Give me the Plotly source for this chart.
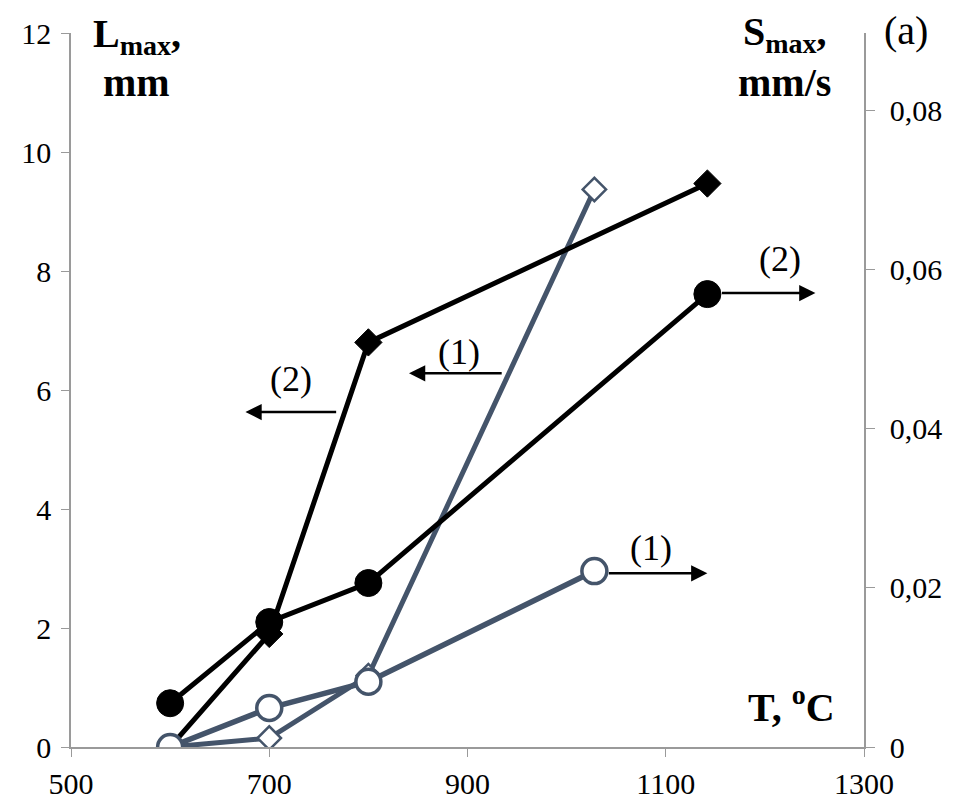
import plotly.graph_objects as go

# Temperature (°C)
T_grey = [600, 700, 800, 1028]
T_black = [600, 700, 800, 1142]

# L_max, mm (left axis) – diamonds
L1_grey = [0.0, 0.15, 1.2, 9.37]
L2_black = [0.0, 1.9, 6.8, 9.47]

# S_max, mm/s (right axis) – circles
S1_grey = [0.0, 0.0049, 0.0082, 0.0221]
S2_black = [0.0055, 0.0157, 0.0206, 0.0569]

x_ticks = [500, 700, 900, 1100, 1300]
x_tick_text = ["500", "700", "900", "1100", "1300"]
yl_ticks = [0, 2, 4, 6, 8, 10, 12]
yl_tick_text = ["0", "2", "4", "6", "8", "10", "12"]
yr_ticks = [0, 0.02, 0.04, 0.06, 0.08]
yr_tick_text = ["0", "0,02", "0,04", "0,06", "0,08"]

GREY = "#44546A"
BLACK = "#000000"
AXIS = "#9a9a9a"
FONT = "Liberation Serif"

fig = go.Figure()

fig.add_trace(go.Scatter(
    x=T_grey, y=L1_grey, mode="lines+markers", yaxis="y",
    line=dict(color=GREY, width=5),
    marker=dict(symbol="diamond", size=18, color="white",
                line=dict(color=GREY, width=2.5)),
    showlegend=False))
fig.add_trace(go.Scatter(
    x=T_black, y=L2_black, mode="lines+markers", yaxis="y",
    line=dict(color=BLACK, width=5),
    marker=dict(symbol="diamond", size=21, color=BLACK,
                line=dict(color=BLACK, width=1)),
    showlegend=False))
fig.add_trace(go.Scatter(
    x=T_black, y=S2_black, mode="lines+markers", yaxis="y2",
    line=dict(color=BLACK, width=5),
    marker=dict(symbol="circle", size=27, color=BLACK,
                line=dict(color=BLACK, width=1)),
    showlegend=False))
fig.add_trace(go.Scatter(
    x=T_grey, y=S1_grey, mode="lines+markers", yaxis="y2",
    line=dict(color=GREY, width=5.5),
    marker=dict(symbol="circle", size=25, color="white",
                line=dict(color=GREY, width=3.5)),
    showlegend=False))

annotations = []

# arrows (data coordinates, left axis): tail_x, head_x, y, start standoff
arrows = [
    (769, 676, 5.63, 0),
    (936, 841, 6.28, 0),
    (1142, 1251, 7.63, 13),
    (1028, 1142, 2.92, 13),
]
for tx, hx, yy, ss in arrows:
    annotations.append(dict(
        x=hx, y=yy, ax=tx, ay=yy, xref="x", yref="y", axref="x", ayref="y",
        text="", showarrow=True, arrowhead=2, arrowsize=1.3, arrowwidth=2.5,
        arrowcolor=BLACK, standoff=0, startstandoff=ss))

labels = [
    ("(2)", 722, 6.18),
    ("(1)", 891, 6.64),
    ("(2)", 1215, 8.2),
    ("(1)", 1085, 3.34),
]
for txt, lx, ly in labels:
    annotations.append(dict(
        x=lx, y=ly, xref="x", yref="y", text=txt, showarrow=False,
        font=dict(family=FONT, size=36, color=BLACK),
        xanchor="center", yanchor="middle"))

# axis titles as text
annotations += [
    dict(x=0.083, y=0.996, xref="paper", yref="paper", text="<b>L<sub>max</sub>,</b>",
         showarrow=False, font=dict(family=FONT, size=40, color=BLACK),
         xanchor="center", yanchor="middle"),
    dict(x=0.083, y=0.931, xref="paper", yref="paper", text="<b>mm</b>",
         showarrow=False, font=dict(family=FONT, size=40, color=BLACK),
         xanchor="center", yanchor="middle"),
    dict(x=0.9, y=0.998, xref="paper", yref="paper", text="<b>S<sub>max</sub>,</b>",
         showarrow=False, font=dict(family=FONT, size=40, color=BLACK),
         xanchor="center", yanchor="middle"),
    dict(x=0.9, y=0.931, xref="paper", yref="paper", text="<b>mm/s</b>",
         showarrow=False, font=dict(family=FONT, size=40, color=BLACK),
         xanchor="center", yanchor="middle"),
    dict(x=1.053, y=1.003, xref="paper", yref="paper", text="(a)",
         showarrow=False, font=dict(family=FONT, size=40, color=BLACK),
         xanchor="center", yanchor="middle"),
    dict(x=0.909, y=0.06, xref="paper", yref="paper", text="<b>T, <sup>o</sup>C</b>",
         showarrow=False, font=dict(family=FONT, size=40, color=BLACK),
         xanchor="center", yanchor="middle"),
]

fig.update_layout(
    width=953, height=805,
    margin=dict(l=71, r=89, t=33, b=58),
    paper_bgcolor="white", plot_bgcolor="white",
    font=dict(family=FONT, size=30, color=BLACK),
    xaxis=dict(range=[500, 1300], tickvals=x_ticks, ticktext=x_tick_text,
               automargin=False,
               showgrid=False, zeroline=False, showline=True, linecolor=AXIS,
               linewidth=1.5, ticks="outside", ticklen=8, tickcolor=AXIS,
               ticklabelstandoff=1,
               tickfont=dict(family=FONT, size=30, color=BLACK)),
    yaxis=dict(range=[0, 12], tickvals=yl_ticks, ticktext=yl_tick_text,
               automargin=False,
               showgrid=False, zeroline=False, showline=True, linecolor=AXIS,
               linewidth=1.5, ticks="outside", ticklen=8, tickcolor=AXIS,
               ticklabelstandoff=4,
               tickfont=dict(family=FONT, size=30, color=BLACK)),
    yaxis2=dict(range=[0, 0.0897], tickvals=yr_ticks, ticktext=yr_tick_text,
                overlaying="y", side="right", anchor="x", automargin=False,
                showgrid=False, zeroline=False, showline=True, linecolor=AXIS,
                linewidth=1.5, ticks="outside", ticklen=9, tickcolor=AXIS,
                ticklabelstandoff=9,
                tickfont=dict(family=FONT, size=30, color=BLACK)),
    annotations=annotations,
)

fig.write_html("out.html")
